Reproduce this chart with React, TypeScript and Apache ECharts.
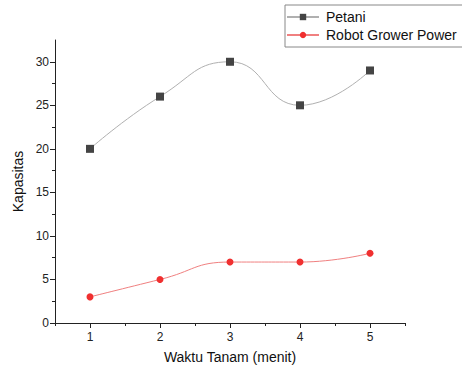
import React, { useEffect, useRef } from "react";
import * as echarts from "echarts";

const categories = [1, 2, 3, 4, 5];
const petani = [20, 26, 30, 25, 29];
const robot = [3, 5, 7, 7, 8];
const yMajor = [0, 5, 10, 15, 20, 25, 30];
const yMinor = [2.5, 7.5, 12.5, 17.5, 22.5, 27.5];
const xMajor = [1, 2, 3, 4, 5];
const xMinor = [0.5, 1.5, 2.5, 3.5, 4.5, 5.5];

const FONT = "Liberation Sans, Arial, sans-serif";
const AX = "#222";

export default function App() {
  const ref = useRef<HTMLDivElement>(null);
  useEffect(() => {
    if (!ref.current) return;
    const chart = echarts.init(ref.current, undefined, { renderer: "svg" });
    const axisCommon = {
      axisLine: { show: true, lineStyle: { color: AX, width: 1 } },
      splitLine: { show: false },
    };
    chart.setOption({
      animation: false,
      backgroundColor: "#fff",
      grid: { left: 55, right: 57, top: 40, bottom: 46, containLabel: false, outerBoundsMode: "none" },
      legend: {
        orient: "vertical",
        left: 285,
        top: 5,
        padding: [5, 6, 5, 1],
        itemGap: 4,
        itemWidth: 32,
        itemHeight: 8,
        borderColor: "#888",
        borderWidth: 1,
        textStyle: { fontFamily: FONT, fontSize: 14, color: "#111", padding: [0, 0, 0, 2], lineHeight: 14 },
        data: ["Petani", "Robot Grower Power"],
      },
      xAxis: [
        {
          type: "value",
          min: 0.5,
          max: 5.5,
          ...axisCommon,
          name: "Waktu Tanam (menit)",
          nameLocation: "middle",
          nameGap: 27,
          nameTextStyle: { fontFamily: FONT, fontSize: 14, color: "#111" },
          axisTick: { show: true, customValues: xMajor, length: 5, lineStyle: { color: AX } },
          axisLabel: { customValues: xMajor, fontFamily: FONT, fontSize: 12, color: "#222", margin: 8 },
        },
        {
          type: "value",
          min: 0.5,
          max: 5.5,
          position: "bottom",
          axisLine: { show: false },
          splitLine: { show: false },
          axisTick: { show: true, customValues: xMinor, length: 3, lineStyle: { color: AX } },
          axisLabel: { show: false },
        },
      ],
      yAxis: [
        {
          type: "value",
          min: 0,
          max: 32.5,
          ...axisCommon,
          name: "Kapasitas",
          nameLocation: "middle",
          nameGap: 28,
          nameTextStyle: { fontFamily: FONT, fontSize: 14, color: "#111" },
          axisTick: { show: true, customValues: yMajor, length: 5, lineStyle: { color: AX } },
          axisLabel: { customValues: yMajor, fontFamily: FONT, fontSize: 12, color: "#222", margin: 6 },
        },
        {
          type: "value",
          min: 0,
          max: 32.5,
          position: "left",
          axisLine: { show: false },
          splitLine: { show: false },
          axisTick: { show: true, customValues: yMinor, length: 3, lineStyle: { color: AX } },
          axisLabel: { show: false },
        },
      ],
      series: [
        {
          name: "Petani",
          type: "line",
          smooth: 0.5,
          data: categories.map((c, i) => [c, petani[i]]),
          symbol: "rect",
          symbolSize: 8,
          itemStyle: { color: "#444444" },
          lineStyle: { color: "#b0b0b0", width: 1 },
        },
        {
          name: "Robot Grower Power",
          type: "line",
          smooth: 0.5,
          data: categories.map((c, i) => [c, robot[i]]),
          symbol: "circle",
          symbolSize: 7,
          itemStyle: { color: "#f03030" },
          lineStyle: { color: "#f08080", width: 1 },
        },
      ],
    });
    return () => chart.dispose();
  }, []);
  return <div ref={ref} style={{ width: 462, height: 369, position: "absolute", left: 0, top: 0 }} />;
}
